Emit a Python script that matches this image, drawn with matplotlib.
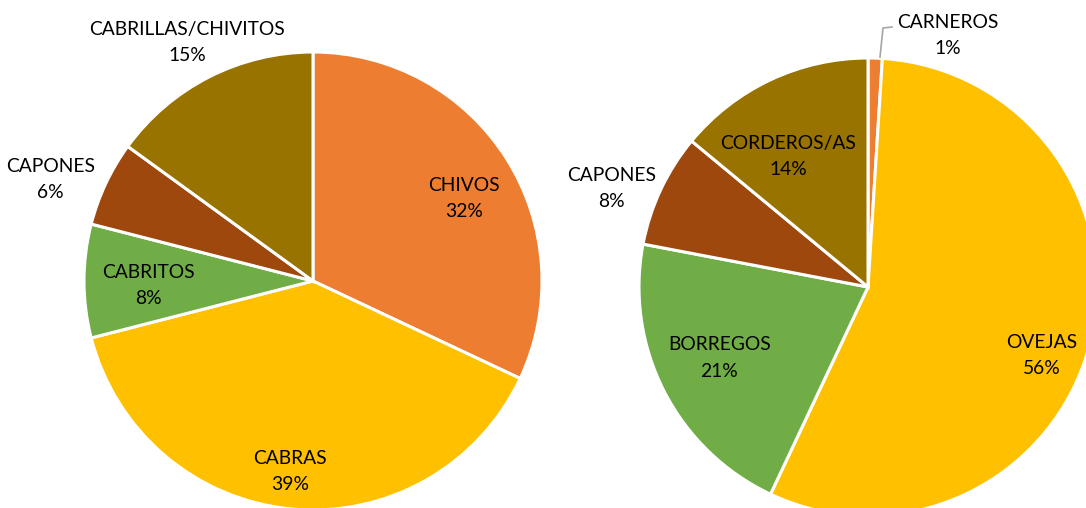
import matplotlib.pyplot as plt

# Left pie: goats
goat_labels = ['CHIVOS', 'CABRAS', 'CABRITOS', 'CAPONES', 'CABRILLAS/CHIVITOS']
goat_pct = [32, 39, 8, 6, 15]

# Right pie: sheep
sheep_labels = ['CARNEROS', 'OVEJAS', 'BORREGOS', 'CAPONES', 'CORDEROS/AS']
sheep_pct = [1, 56, 21, 8, 14]

colors = ['#ED7D31', '#FFC000', '#70AD47', '#9E480E', '#997300']

# label block centres, offset from the pie centre in units of radius (x right, y up)
goat_label_pos = [(0.66, 0.36), (-0.10, -0.83), (-0.72, -0.02), (-1.145, 0.445), (-0.55, 1.04)]
sheep_label_pos = [(0.35, 1.10), (0.76, -0.30), (-0.65, -0.31), (-1.12, 0.43), (-0.35, 0.57)]

W, H = 1086, 508
R = 229

fig = plt.figure(figsize=(W / 100, H / 100), dpi=100)
ax = fig.add_axes([0, 0, 1, 1])

font = dict(family=['Lato', 'DejaVu Sans'], fontsize=13.9, color='#000000',
            ha='center', va='center', linespacing=1.65)


def draw_pie(values, names, offsets, cx, cy):
    ax.pie(values, colors=colors, startangle=90, counterclock=False,
           center=(cx, cy), radius=R,
           wedgeprops=dict(edgecolor='white', linewidth=2.2))
    for name, v, (dx, dy) in zip(names, values, offsets):
        ax.text(cx + dx * R, cy + dy * R, f'{name}\n{v}%', **font)


draw_pie(goat_pct, goat_labels, goat_label_pos, 313, H - 281)
draw_pie(sheep_pct, sheep_labels, sheep_label_pos, 868, H - 287)

# leader line for the small CARNEROS slice
ax.plot([880, 883, 892], [H - 57, H - 28, H - 27], color='#A6A6A6', lw=1.2)

ax.set_xlim(0, W)
ax.set_ylim(0, H)
ax.set_aspect('equal')
ax.axis('off')

fig.savefig('out.png', dpi=100, facecolor='white')
